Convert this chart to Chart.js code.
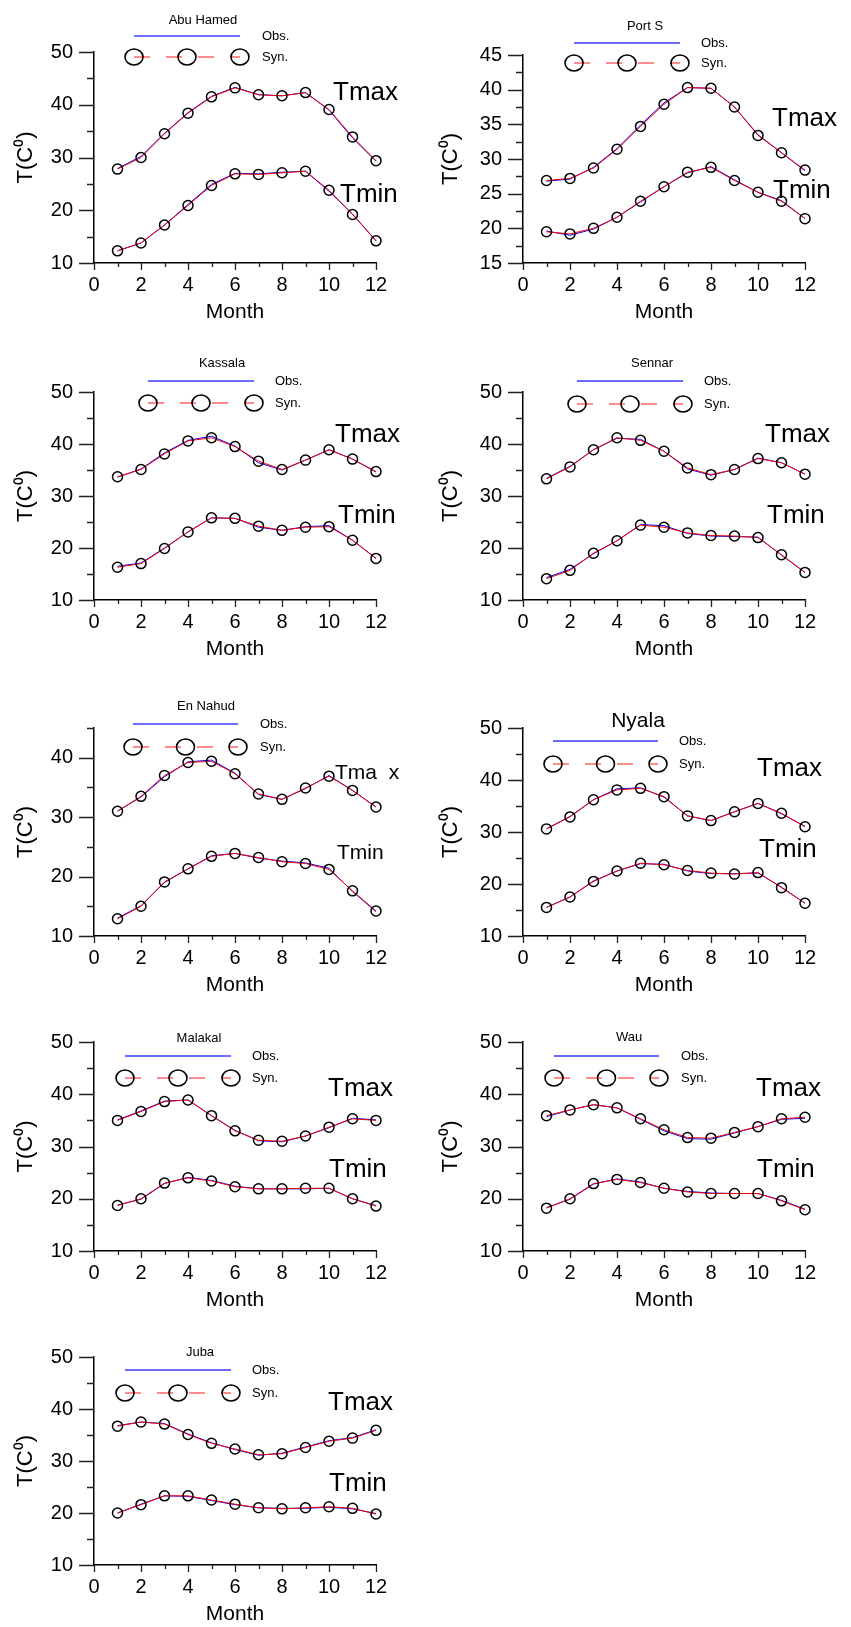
<!DOCTYPE html>
<html>
<head>
<meta charset="utf-8">
<title>Tmax / Tmin observed vs synthetic</title>
<script src="https://cdn.jsdelivr.net/npm/chart.js@4.4.1/dist/chart.umd.min.js"></script>
<style>
  html, body { margin: 0; padding: 0; background: #fff; }
  #page { position: relative; width: 851px; height: 1627px; overflow: hidden; }
  #page canvas { position: absolute; }
</style>
</head>
<body>
<div id="page"></div>
<script>
// data

const months = [1, 2, 3, 4, 5, 6, 7, 8, 9, 10, 11, 12];
const stationNames = ['Abu Hamed', 'Port S', 'Kassala', 'Sennar', 'En Nahud', 'Nyala', 'Malakal', 'Wau', 'Juba'];

// y axis per station: min, max, tick step, labelled every
const yMins = [10, 15, 10, 10, 10, 10, 10, 10, 10];
const yMaxs = [50, 45, 50, 50, 45, 50, 50, 50, 50];
const ySteps = [5, 2.5, 5, 5, 5, 5, 5, 5, 5];
const yLabelEvery = [10, 5, 10, 10, 10, 10, 10, 10, 10];

const abuHamedTmaxObs = [27.9, 30.2, 34.6, 38.5, 41.6, 43.3, 41.9, 41.7, 42.3, 39.0, 33.7, 29.3];
const abuHamedTmaxSyn = [27.8, 30.0, 34.5, 38.4, 41.5, 43.2, 41.9, 41.7, 42.3, 39.1, 33.9, 29.4];
const abuHamedTminObs = [12.3, 13.8, 17.2, 21.1, 24.9, 27.0, 26.9, 27.2, 27.4, 23.6, 19.3, 14.2];
const abuHamedTminSyn = [12.3, 13.8, 17.2, 20.9, 24.7, 26.9, 26.8, 27.1, 27.4, 23.8, 19.2, 14.2];

const portSTmaxObs = [26.8, 27.1, 28.8, 31.5, 34.9, 38.1, 40.3, 40.2, 37.5, 33.5, 30.9, 28.3];
const portSTmaxSyn = [26.9, 27.2, 28.7, 31.4, 34.7, 37.9, 40.3, 40.2, 37.5, 33.4, 30.9, 28.4];
const portSTminObs = [19.6, 19.0, 19.9, 21.6, 23.8, 26.0, 28.0, 28.9, 27.0, 25.2, 24.0, 21.4];
const portSTminSyn = [19.5, 19.2, 20.0, 21.6, 23.9, 26.0, 28.1, 28.8, 26.9, 25.2, 23.9, 21.4];

const kassalaTmaxObs = [33.6, 35.2, 38.3, 40.7, 41.5, 39.6, 36.4, 35.0, 36.9, 38.9, 37.1, 34.6];
const kassalaTmaxSyn = [33.7, 35.1, 38.1, 40.6, 41.2, 39.5, 36.7, 35.1, 36.9, 38.9, 37.1, 34.7];
const kassalaTminObs = [16.5, 17.1, 20.0, 23.1, 25.8, 25.7, 24.0, 23.4, 24.1, 24.3, 21.5, 18.0];
const kassalaTminSyn = [16.3, 17.0, 19.9, 23.1, 25.8, 25.7, 24.2, 23.4, 24.0, 24.1, 21.5, 18.0];

const sennarTmaxObs = [33.4, 35.7, 38.9, 41.1, 40.9, 38.6, 35.2, 34.0, 35.1, 37.3, 36.4, 34.2];
const sennarTmaxSyn = [33.3, 35.6, 38.9, 41.2, 40.7, 38.6, 35.4, 34.1, 35.1, 37.2, 36.4, 34.2];
const sennarTminObs = [14.3, 15.9, 18.9, 21.4, 24.5, 24.3, 22.8, 22.3, 22.2, 22.1, 18.6, 15.3];
const sennarTminSyn = [14.1, 15.7, 19.0, 21.4, 24.4, 24.0, 22.9, 22.4, 22.3, 22.0, 18.7, 15.3];

const enNahudTmaxObs = [31.0, 33.4, 36.8, 39.3, 39.6, 37.4, 33.8, 33.0, 34.8, 37.0, 34.5, 31.7];
const enNahudTmaxSyn = [31.0, 33.5, 37.0, 39.2, 39.4, 37.3, 33.9, 33.0, 34.9, 36.9, 34.5, 31.7];
const enNahudTminObs = [13.0, 15.1, 19.0, 21.3, 23.5, 23.9, 23.1, 22.6, 22.3, 21.4, 17.5, 14.1];
const enNahudTminSyn = [12.9, 15.0, 19.1, 21.3, 23.4, 23.9, 23.2, 22.5, 22.2, 21.2, 17.6, 14.2];

const nyalaTmaxObs = [30.6, 33.0, 36.2, 38.3, 38.5, 36.7, 33.1, 32.2, 33.9, 35.5, 33.5, 31.1];
const nyalaTmaxSyn = [30.6, 32.9, 36.2, 38.1, 38.4, 36.8, 33.1, 32.2, 33.9, 35.5, 33.6, 31.0];
const nyalaTminObs = [15.5, 17.5, 20.6, 22.5, 23.9, 23.8, 22.5, 22.0, 22.0, 22.1, 19.4, 16.3];
const nyalaTminSyn = [15.5, 17.5, 20.5, 22.5, 24.0, 23.7, 22.6, 22.1, 21.9, 22.2, 19.3, 16.3];

const malakalTmaxObs = [35.1, 36.8, 38.7, 38.9, 35.9, 33.1, 31.1, 30.9, 32.0, 33.6, 35.4, 35.1];
const malakalTmaxSyn = [35.0, 36.7, 38.6, 38.9, 35.9, 33.0, 31.2, 31.0, 32.0, 33.7, 35.3, 35.0];
const malakalTminObs = [18.8, 19.9, 22.9, 24.1, 23.5, 22.4, 21.9, 21.9, 21.9, 22.0, 20.0, 18.7];
const malakalTminSyn = [18.7, 20.0, 23.0, 24.0, 23.4, 22.3, 21.9, 21.9, 22.0, 22.0, 20.0, 18.6];

const wauTmaxObs = [35.7, 37.0, 38.0, 37.4, 35.2, 33.0, 31.5, 31.4, 32.6, 33.8, 35.2, 35.4];
const wauTmaxSyn = [35.9, 37.0, 38.0, 37.4, 35.3, 33.2, 31.7, 31.6, 32.7, 33.8, 35.3, 35.6];
const wauTminObs = [18.3, 19.9, 22.8, 23.8, 23.2, 22.0, 21.4, 21.1, 21.0, 21.0, 19.7, 18.0];
const wauTminSyn = [18.2, 20.0, 22.9, 23.7, 23.1, 22.0, 21.3, 21.0, 21.0, 21.0, 19.6, 17.9];

const jubaTmaxObs = [36.8, 37.5, 37.2, 35.2, 33.5, 32.2, 31.1, 31.5, 32.7, 33.9, 34.5, 36.0];
const jubaTmaxSyn = [36.7, 37.5, 37.1, 35.1, 33.4, 32.3, 31.2, 31.4, 32.6, 33.8, 34.4, 35.9];
const jubaTminObs = [20.0, 21.7, 23.3, 23.2, 22.4, 21.6, 21.0, 20.9, 20.9, 21.1, 20.8, 19.9];
const jubaTminSyn = [20.0, 21.6, 23.3, 23.3, 22.5, 21.7, 21.0, 20.8, 21.0, 21.2, 20.9, 19.8];

// [TmaxObs, TmaxSyn, TminObs, TminSyn] per station, same order as stationNames
const stationSeries = [
  [abuHamedTmaxObs, abuHamedTmaxSyn, abuHamedTminObs, abuHamedTminSyn],
  [portSTmaxObs, portSTmaxSyn, portSTminObs, portSTminSyn],
  [kassalaTmaxObs, kassalaTmaxSyn, kassalaTminObs, kassalaTminSyn],
  [sennarTmaxObs, sennarTmaxSyn, sennarTminObs, sennarTminSyn],
  [enNahudTmaxObs, enNahudTmaxSyn, enNahudTminObs, enNahudTminSyn],
  [nyalaTmaxObs, nyalaTmaxSyn, nyalaTminObs, nyalaTminSyn],
  [malakalTmaxObs, malakalTmaxSyn, malakalTminObs, malakalTminSyn],
  [wauTmaxObs, wauTmaxSyn, wauTminObs, wauTminSyn],
  [jubaTmaxObs, jubaTmaxSyn, jubaTminObs, jubaTminSyn],
];

// layout: panel placement + where the little legend and labels sit,
// offsets are in px from the top-left corner of each plot area
const FONT = "'Liberation Sans', Arial, Helvetica, sans-serif";
const PAD_TOP = 50;
const X_AXIS_H = 64;

const panels = [
  { left: 0,   plotTop: 52,   plotH: 211, title: [109, -32, 13], leg: [40, 146, -16, 5, 168],  tmax: [239, 41], tmin: [246, 143], lblSize: 26, tmaxText: 'Tmax' },
  { left: 425, plotTop: 55,   plotH: 208, title: [122, -29, 13], leg: [51, 157, -12, 8, 178],  tmax: [249, 64], tmin: [250, 136], lblSize: 26, tmaxText: 'Tmax' },
  { left: 0,   plotTop: 392,  plotH: 208, title: [128, -29, 13], leg: [54, 160, -11, 11, 181], tmax: [241, 43], tmin: [244, 124], lblSize: 26, tmaxText: 'Tmax' },
  { left: 425, plotTop: 392,  plotH: 208, title: [129, -29, 13], leg: [54, 160, -11, 12, 181], tmax: [242, 43], tmin: [244, 124], lblSize: 26, tmaxText: 'Tmax' },
  { left: 0,   plotTop: 728,  plotH: 208, title: [112, -22, 13], leg: [39, 144, -4, 19, 166],  tmax: [241, 45], tmin: [243, 125], lblSize: 21, tmaxText: 'Tma  x' },
  { left: 425, plotTop: 728,  plotH: 208, title: [115, -7, 21],  leg: [30, 135, 13, 36, 156],  tmax: [234, 41], tmin: [236, 122], lblSize: 26, tmaxText: 'Tmax' },
  { left: 0,   plotTop: 1042, plotH: 209, title: [105, -4, 13],  leg: [31, 137, 14, 36, 158],  tmax: [234, 47], tmin: [235, 128], lblSize: 26, tmaxText: 'Tmax' },
  { left: 425, plotTop: 1042, plotH: 209, title: [106, -5, 13],  leg: [31, 136, 14, 36, 158],  tmax: [233, 47], tmin: [234, 128], lblSize: 26, tmaxText: 'Tmax' },
  { left: 0,   plotTop: 1357, plotH: 208, title: [106, -5, 13],  leg: [31, 137, 13, 36, 158],  tmax: [234, 46], tmin: [235, 127], lblSize: 26, tmaxText: 'Tmax' },
];

Chart.defaults.font.family = FONT;
Chart.defaults.color = '#000';

// tick marks: long for labelled ticks, short for the others
const tickMarks = {
  id: 'tickMarks',
  afterDraw(chart) {
    const { ctx, chartArea: a, scales: { x, y } } = chart;
    ctx.save();
    ctx.strokeStyle = '#222';
    ctx.lineWidth = 1.3;
    ctx.beginPath();
    y.ticks.forEach(t => {
      const py = Math.round(y.getPixelForValue(t.value)) + 0.5;
      const len = t.label === '' ? 7 : 15;
      ctx.moveTo(a.left - len, py);
      ctx.lineTo(a.left, py);
    });
    x.ticks.forEach(t => {
      const px = Math.round(x.getPixelForValue(t.value)) + 0.5;
      const len = t.label === '' ? 4 : 7;
      ctx.moveTo(px, a.bottom);
      ctx.lineTo(px, a.bottom + len);
    });
    ctx.stroke();
    ctx.restore();
  }
};

// station name, Obs./Syn. key and the Tmax / Tmin labels
const stationNotes = {
  id: 'stationNotes',
  afterDraw(chart, args, o) {
    const { ctx, chartArea: a } = chart;
    const X = dx => a.left + dx;
    const Y = dy => a.top + dy;
    const [x0, x1, obsY, synY, txtX] = o.leg;
    ctx.save();
    ctx.fillStyle = '#000';
    ctx.textBaseline = 'middle';

    ctx.font = o.title[2] + 'px ' + FONT;
    ctx.textAlign = 'center';
    ctx.fillText(o.name, X(o.title[0]), Y(o.title[1]));

    ctx.strokeStyle = '#3a3aff';
    ctx.lineWidth = 1.5;
    ctx.beginPath();
    ctx.moveTo(X(x0), Y(obsY));
    ctx.lineTo(X(x1), Y(obsY));
    ctx.stroke();

    ctx.strokeStyle = '#ff1a1a';
    ctx.lineWidth = 1.2;
    ctx.setLineDash([16, 16]);
    ctx.beginPath();
    ctx.moveTo(X(x0), Y(synY));
    ctx.lineTo(X(x1), Y(synY));
    ctx.stroke();
    ctx.setLineDash([]);

    ctx.strokeStyle = '#000';
    ctx.lineWidth = 1.6;
    [x0, (x0 + x1) / 2, x1].forEach(cx => {
      ctx.beginPath();
      ctx.ellipse(X(cx), Y(synY), 9, 8, 0, 0, Math.PI * 2);
      ctx.stroke();
    });

    ctx.textAlign = 'left';
    ctx.font = '13px ' + FONT;
    ctx.fillText('Obs.', X(txtX), Y(obsY));
    ctx.fillText('Syn.', X(txtX), Y(synY));

    ctx.font = o.lblSize + 'px ' + FONT;
    ctx.fillText(o.tmaxText, X(o.tmax[0]), Y(o.tmax[1]));
    ctx.fillText('Tmin', X(o.tmin[0]), Y(o.tmin[1]));
    ctx.restore();
  }
};

const page = document.getElementById('page');

const toPoints = arr => months.map((m, k) => ({ x: m, y: arr[k] }));

const obsSet = arr => ({
  label: 'Obs.', data: toPoints(arr), clip: false,
  borderColor: '#0000ff', borderWidth: 1, pointRadius: 0, order: 1
});
const synSet = arr => ({
  label: 'Syn.', data: toPoints(arr), clip: false,
  borderColor: '#ff0000', borderWidth: 1,
  pointRadius: 5, pointBorderColor: '#000', pointBorderWidth: 1.5,
  pointBackgroundColor: 'rgba(0,0,0,0)', order: 0
});

stationNames.forEach((name, i) => {
  const p = panels[i];
  const [tmaxObs, tmaxSyn, tminObs, tminSyn] = stationSeries[i];
  const leftCol = p.left === 0;
  const w = leftCol ? 425 : 426;
  const plotRight = leftCol ? 376 : 380;
  const h = PAD_TOP + p.plotH + X_AXIS_H;

  const canvas = document.createElement('canvas');
  canvas.width = w;
  canvas.height = h;
  canvas.style.width = w + 'px';
  canvas.style.height = h + 'px';
  canvas.style.left = p.left + 'px';
  canvas.style.top = (p.plotTop - PAD_TOP) + 'px';
  page.appendChild(canvas);

  const every = yLabelEvery[i];

  new Chart(canvas, {
    type: 'line',
    data: { datasets: [synSet(tmaxSyn), obsSet(tmaxObs), synSet(tminSyn), obsSet(tminObs)] },
    options: {
      responsive: false,
      animation: false,
      events: [],
      layout: { padding: { top: PAD_TOP, left: 0, right: w - plotRight, bottom: 0 } },
      plugins: {
        legend: { display: false },
        tooltip: { enabled: false },
        stationNotes: Object.assign({ name }, p)
      },
      scales: {
        x: {
          type: 'linear', min: 0, max: 12,
          grid: { display: false, drawTicks: false },
          border: { display: true, color: '#000', width: 1.5 },
          ticks: {
            stepSize: 1, autoSkip: false, maxRotation: 0, minRotation: 0,
            padding: 10, font: { size: 20 },
            callback: v => (v % 2 === 0 ? String(v) : '')
          },
          title: { display: true, text: 'Month', font: { size: 21 }, padding: { top: 0, bottom: 2 } },
          afterFit: s => { s.height = X_AXIS_H; }
        },
        y: {
          min: yMins[i], max: yMaxs[i],
          grid: { display: false, drawTicks: false },
          border: { display: true, color: '#000', width: 1.5 },
          ticks: {
            stepSize: ySteps[i], autoSkip: false,
            padding: 21, font: { size: 20 },
            callback: v => (Math.abs(v % every) < 1e-6 ? String(v) : '')
          },
          title: { display: true, text: 'T(C⁰)', font: { size: 22 }, padding: { top: 13, bottom: 0 } },
          afterFit: s => { s.width = leftCol ? 94 : 98; }
        }
      }
    },
    plugins: [tickMarks, stationNotes]
  });
});
</script>
</body>
</html>
